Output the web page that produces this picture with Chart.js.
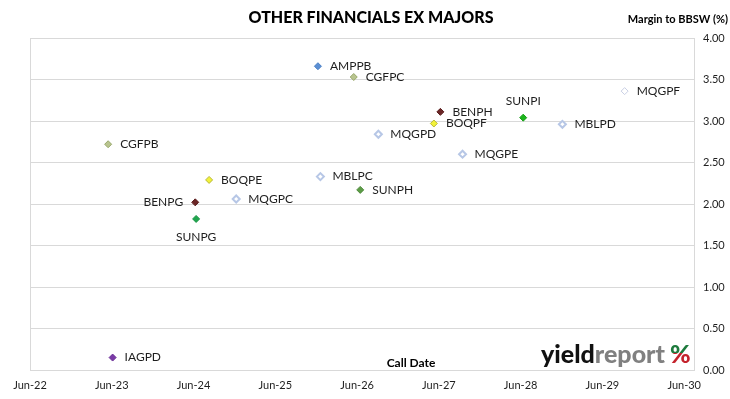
<!DOCTYPE html>
<html>
<head>
<meta charset="utf-8">
<script src="https://cdn.jsdelivr.net/npm/chart.js@4/dist/chart.umd.min.js"></script>
<style>
  html, body { margin: 0; padding: 0; background: #fff; }
  #wrap { width: 730px; height: 399px; }
</style>
</head>
<body>
<div id="wrap"><canvas id="chart" width="730" height="399"></canvas></div>
<script>
// securities, call dates and margins
const codes = ["AMPPB", "CGFPC", "CGFPB", "BENPH", "BENPG", "BOQPF", "BOQPE", "MQGPC", "MQGPD",
    "MQGPE", "MQGPF", "MBLPC", "MBLPD", "SUNPG", "SUNPH", "SUNPI", "IAGPD"];
const callDates = ["2025-12-08", "2026-05-17", "2023-05-16", "2027-06-08", "2024-06-08", "2027-05-10",
    "2024-08-09", "2024-12-08", "2026-09-04", "2027-09-15", "2029-09-08", "2025-12-19", "2028-12-04",
    "2024-06-12", "2026-06-15", "2028-06-12", "2023-06-05"];
const margins = [3.66, 3.53, 2.72, 3.11, 2.02, 2.97, 2.29, 2.06, 2.84, 2.60, 3.36, 2.33, 2.96,
    1.82, 2.17, 3.04, 0.15];

const xTickYears = [0, 1, 2, 3, 4, 5, 6, 7, 8];
const xTickLabels = ["Jun-22", "Jun-23", "Jun-24", "Jun-25", "Jun-26", "Jun-27", "Jun-28", "Jun-29", "Jun-30"];
const yTicks = [0, 0.5, 1, 1.5, 2, 2.5, 3, 3.5, 4];

// marker look per issuer
const issuerStyle = {
    AMP: { fill: "#5b8fd4", border: "#4a7fc4", width: 1 },
    CGF: { fill: "#b9c48f", border: "#97a86a", width: 1 },
    BEN: { fill: "#6b2626", border: "#5a1d1d", width: 1 },
    BOQ: { fill: "#f2f23a", border: "#b8b83a", width: 1 },
    MQG: { fill: "#ffffff", border: "#b7c7e6", width: 2 },
    MBL: { fill: "#ffffff", border: "#b7c7e6", width: 2 },
    IAG: { fill: "#7a3aa6", border: "#6a2e96", width: 1 },
};
const pointOverride = {
    MQGPF: { fill: "#ffffff", border: "#c9cfe4", width: 1 },
    SUNPG: { fill: "#1fa64e", border: "#1a9444", width: 1 },
    SUNPH: { fill: "#5c9c46", border: "#4f8a3c", width: 1 },
    SUNPI: { fill: "#1cb51c", border: "#16a016", width: 1 },
};
const labelSide = { BENPG: "left", SUNPG: "below", SUNPI: "above" };

const START = Date.UTC(2022, 5, 1);
function yearsSinceStart(s) {
    const [y, m, d] = s.split("-").map(Number);
    return (Date.UTC(y, m - 1, d) - START) / (365.25 * 864e5);
}

function styleFor(code) {
    return pointOverride[code] || issuerStyle[code.slice(0, 3)];
}

const TEXT = "#1e1e1e";

const pointLabels = {
    id: "pointLabels",
    afterDatasetsDraw(chart) {
        const ctx = chart.ctx;
        const meta = chart.getDatasetMeta(0);
        ctx.save();
        ctx.font = "12px Lato";
        ctx.fillStyle = TEXT;
        meta.data.forEach((pt, i) => {
            const code = codes[i];
            const side = labelSide[code] || "right";
            if (side === "right") {
                ctx.textAlign = "left"; ctx.textBaseline = "middle";
                ctx.fillText(code, pt.x + 12, pt.y);
            } else if (side === "left") {
                ctx.textAlign = "right"; ctx.textBaseline = "middle";
                ctx.fillText(code, pt.x - 12, pt.y);
            } else if (side === "below") {
                ctx.textAlign = "center"; ctx.textBaseline = "middle";
                ctx.fillText(code, pt.x, pt.y + 18);
            } else {
                ctx.textAlign = "center"; ctx.textBaseline = "middle";
                ctx.fillText(code, pt.x, pt.y - 17);
            }
        });
        ctx.restore();
    },
};

const decorations = {
    id: "decorations",
    afterDraw(chart) {
        const ctx = chart.ctx;
        const area = chart.chartArea;
        ctx.save();
        ctx.fillStyle = "#000";
        ctx.textBaseline = "middle";
        ctx.textAlign = "center";
        ctx.font = "900 16px Lato";
        ctx.fillText("OTHER FINANCIALS EX MAJORS", 371, 18);
        ctx.textAlign = "right";
        ctx.font = "bold 11px Lato";
        ctx.fillText("Margin to BBSW (%)", 728, 19);
        ctx.textAlign = "center";
        ctx.font = "bold 12px Lato";
        ctx.fillText("Call Date", 411, area.bottom - 7);

        // yieldreport logo
        ctx.textAlign = "left";
        ctx.textBaseline = "alphabetic";
        ctx.font = "900 25px Lato";
        let x = 541;
        const base = 363;
        ctx.fillStyle = "#111";
        ctx.fillText("yield", x, base);
        x += ctx.measureText("yield").width;
        ctx.fillStyle = "#808080";
        ctx.fillText("report", x, base);
        x += ctx.measureText("report").width + 5;
        ctx.save();
        ctx.beginPath(); ctx.rect(x - 2, base - 30, 30, 20); ctx.clip();
        ctx.fillStyle = "#1d7a3c";
        ctx.fillText("%", x, base);
        ctx.restore();
        ctx.save();
        ctx.beginPath(); ctx.rect(x - 2, base - 10, 30, 20); ctx.clip();
        ctx.fillStyle = "#c4222c";
        ctx.fillText("%", x, base);
        ctx.restore();
        ctx.restore();
    },
};

const styles = codes.map(styleFor);

new Chart(document.getElementById("chart"), {
    type: "scatter",
    data: {
        datasets: [{
            data: codes.map((c, i) => ({ x: yearsSinceStart(callDates[i]), y: margins[i] })),
            pointStyle: "rectRot",
            pointRadius: 3.5,
            pointHoverRadius: 4,
            pointBackgroundColor: styles.map((s) => s.fill),
            pointBorderColor: styles.map((s) => s.border),
            pointBorderWidth: styles.map((s) => s.width),
        }],
    },
    options: {
        responsive: false,
        animation: false,
        devicePixelRatio: 1,
        layout: { padding: { left: 30, top: 38, right: 0, bottom: 0 } },
        plugins: { legend: { display: false }, tooltip: { enabled: false }, title: { display: false } },
        scales: {
            x: {
                type: "linear",
                min: 0,
                max: 8.12,
                afterBuildTicks: (scale) => { scale.ticks = xTickYears.map((v) => ({ value: v })); },
                afterFit: (scale) => { scale.height = 29; },
                grid: {
                    drawTicks: false,
                    color: (c) => (c.index === 0 ? "#d9d9d9" : "rgba(0,0,0,0)"),
                },
                border: { display: false },
                ticks: {
                    autoSkip: false,
                    maxRotation: 0,
                    padding: 9,
                    color: TEXT,
                    font: { family: "Lato", size: 11 },
                    callback: (v, i) => xTickLabels[i],
                },
            },
            y: {
                position: "right",
                min: 0,
                max: 4,
                afterBuildTicks: (scale) => { scale.ticks = yTicks.map((v) => ({ value: v })); },
                afterFit: (scale) => { scale.width = 36; },
                grid: { drawTicks: false, color: "#d9d9d9" },
                border: { display: true, color: "#d9d9d9" },
                ticks: {
                    padding: 9,
                    color: TEXT,
                    font: { family: "Lato", size: 11 },
                    callback: (v) => v.toFixed(2),
                },
            },
        },
    },
    plugins: [pointLabels, decorations],
});
</script>
</body>
</html>
